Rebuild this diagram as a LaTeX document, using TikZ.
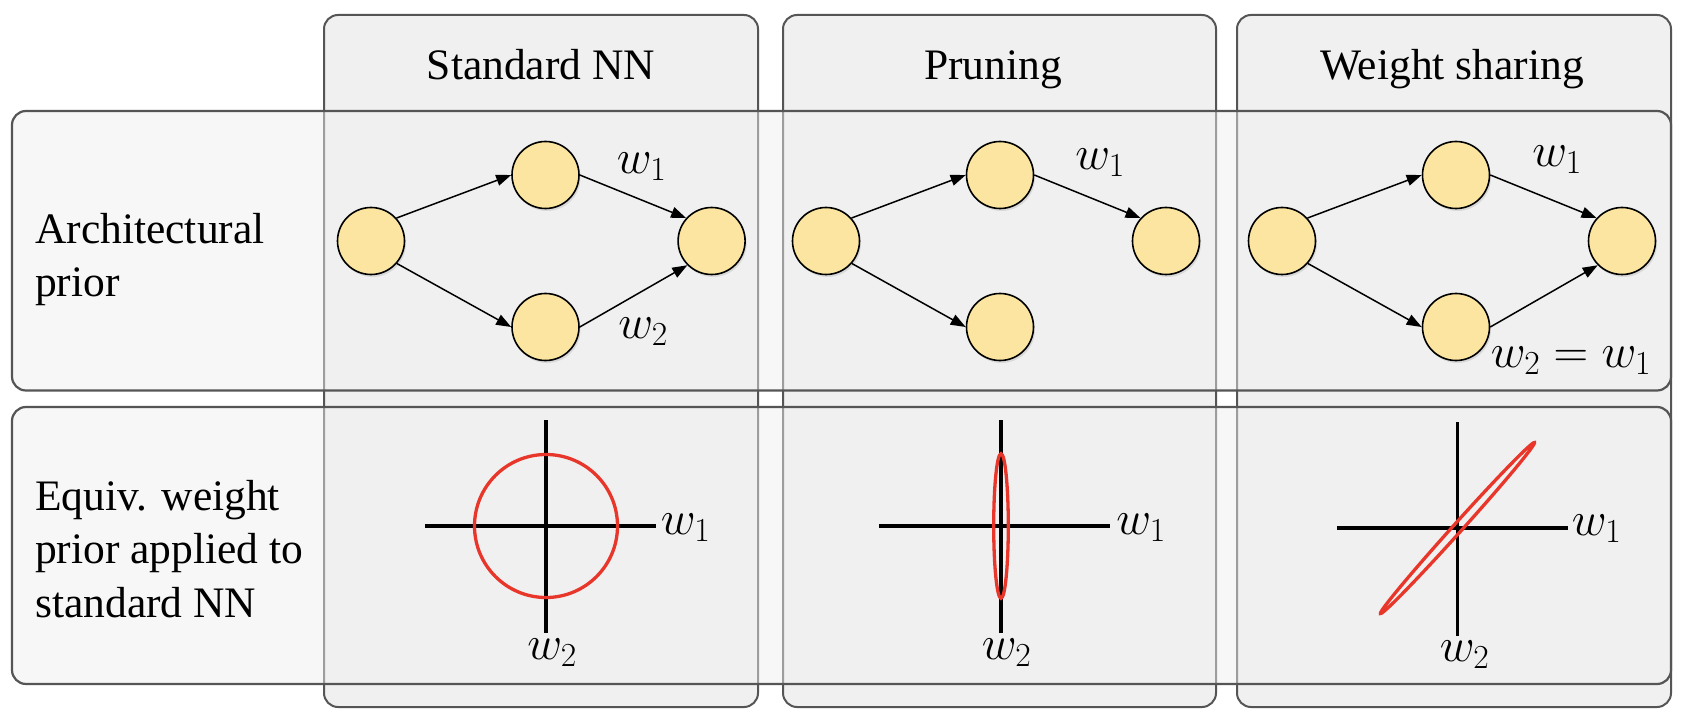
\RequirePackage{fix-cm}
\documentclass[tikz,border=0pt]{standalone}
\usepackage[no-math]{fontspec}
\setmainfont{Liberation Serif}
\usetikzlibrary{arrows.meta,shadows}
\definecolor{colfill}{HTML}{F0F0F0}
\definecolor{boxline}{HTML}{555555}
\definecolor{nodefill}{RGB}{251,229,160}
\definecolor{ellred}{RGB}{232,54,42}
\begin{document}
\begin{tikzpicture}[x=1pt,y=-1pt,
  colbox/.style={draw=boxline, line width=2pt, fill=colfill, rounded corners=14pt},
  rowbox/.style={draw=boxline, line width=2.2pt, fill=colfill, fill opacity=0.47, rounded corners=14pt},
  nn/.style={circle, draw=black, line width=1.6pt, fill=nodefill, minimum size=67pt, inner sep=0pt,
    drop shadow={shadow xshift=1.5pt, shadow yshift=-2.5pt, opacity=0.2}},
  arr/.style={-{Triangle[length=15pt,width=11pt]}, line width=1.5pt},
  axis/.style={line width=3.3pt},
  prior/.style={draw=ellred, line width=3.3pt},
  title/.style={font=\fontsize{43.5}{53.5}\selectfont, anchor=base, inner sep=0pt},
  lab/.style={font=\fontsize{43.5}{53.5}\selectfont, align=left, anchor=base west, inner sep=0pt},
  wl/.style={font=\fontsize{48}{56}\selectfont, inner sep=0pt}]
\useasboundingbox (0,0) rectangle (1682,722);
\fill[white] (0,0) rectangle (1682,722);
% column boxes
\draw[colbox] (324,15) rectangle (758,707);
\draw[colbox] (783,15) rectangle (1216,707);
\draw[colbox] (1237,15) rectangle (1671,707);
% row boxes
\draw[rowbox] (12,111) rectangle (1671,390.5);
\draw[rowbox] (12,407) rectangle (1671,684);
% titles
\node[title] (t1) at (541,80) {Standard NN};
\node[title] (t2) at (993,80) {Pruning};
\node[title] (t3) at (1452,80) {Weight sharing};
% row labels (anchor = baseline of last line)
\node[lab] (r1) at (35,296.5) {Architectural\\prior};
\node[lab] (r2) at (35,617) {Equiv. weight\\prior applied to\\standard NN};
% column 1 network
\node[nn] (a1) at (371,241) {};
\node[nn] (b1) at (545.5,175) {};
\node[nn] (c1) at (545.5,327) {};
\node[nn] (d1) at (711.6,241) {};
\draw[arr] (a1.42) -- (b1.west);
\draw[arr] (a1.-41) -- (c1.west);
\draw[arr] (b1.east) -- (d1.138);
\draw[arr] (c1.east) -- (d1.-135);
\node[wl] (w11) at (641.5,167) {$w_1$};
\node[wl] (w12) at (643,332) {$w_2$};
% column 2 network
\node[nn] (a2) at (826,241) {};
\node[nn] (b2) at (1000,175) {};
\node[nn] (c2) at (1000,327) {};
\node[nn] (d2) at (1166,241) {};
\draw[arr] (a2.42) -- (b2.west);
\draw[arr] (a2.-41) -- (c2.west);
\draw[arr] (b2.east) -- (d2.138);
\node[wl] (w21) at (1100,163) {$w_1$};
% column 3 network
\node[nn] (a3) at (1282,241) {};
\node[nn] (b3) at (1456,175) {};
\node[nn] (c3) at (1456,327) {};
\node[nn] (d3) at (1622,241) {};
\draw[arr] (a3.42) -- (b3.west);
\draw[arr] (a3.-41) -- (c3.west);
\draw[arr] (b3.east) -- (d3.138);
\draw[arr] (c3.east) -- (d3.-135);
\node[wl] (w31) at (1557,160) {$w_1$};
\node[wl] (w32) at (1571,361) {$w_2=w_1$};
% bottom row: priors
\coordinate (o1) at (546,526);
\draw[axis] (425,526) -- (656,526);
\draw[axis] (546,420) -- (546,633);
\draw[prior] (o1) circle (71.5);
\node[wl] (p11) at (685.5,528) {$w_1$};
\node[wl] (p12) at (552,653) {$w_2$};
\coordinate (o2) at (1001,526);
\draw[axis] (879,526) -- (1110,526);
\draw[axis] (1001,420) -- (1001,633);
\draw[prior] (o2) ellipse [x radius=7.3, y radius=72.3];
\node[wl] (p21) at (1141,528) {$w_1$};
\node[wl] (p22) at (1006.5,653) {$w_2$};
\coordinate (o3) at (1457.5,528);
\draw[axis] (1337,528) -- (1568,528);
\draw[axis] (1457.5,422) -- (1457.5,636);
\draw[prior, rotate around={48:(o3)}] (o3) ellipse [x radius=115, y radius=4.5];
\node[wl] (p31) at (1596.5,529) {$w_1$};
\node[wl] (p32) at (1464.5,655) {$w_2$};
\end{tikzpicture}
\end{document}
